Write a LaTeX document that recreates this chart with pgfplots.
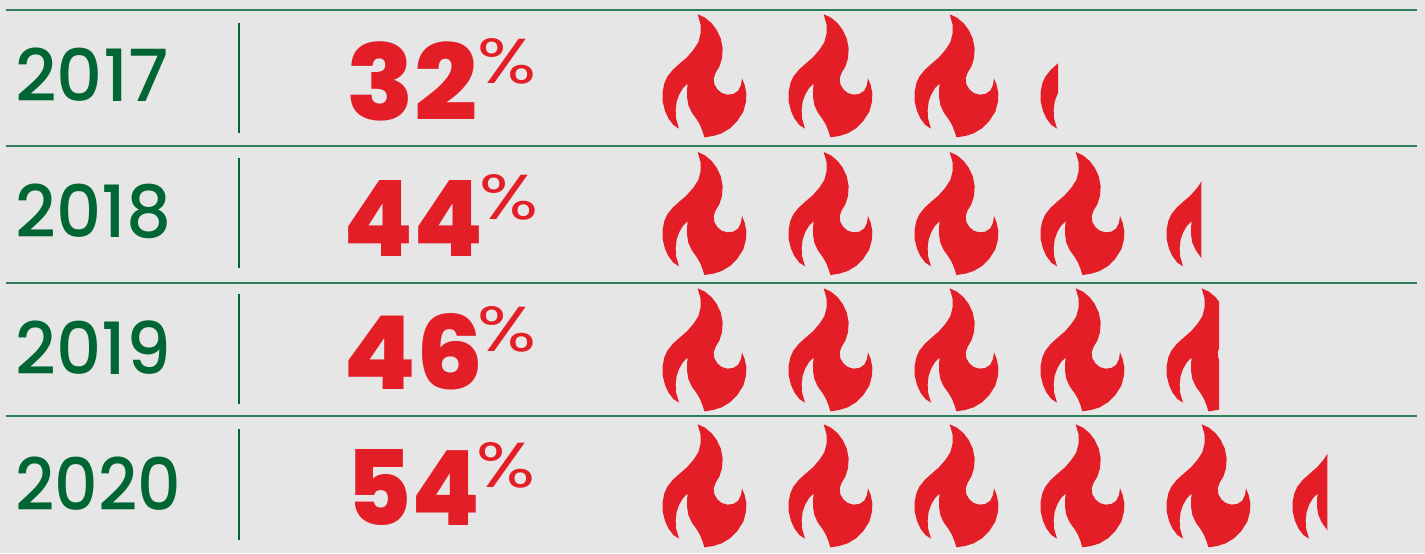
\documentclass[border=0pt]{standalone}
\usepackage{pgfplots}
\pgfplotsset{compat=1.18}
\usepackage{pgfplotstable}
\usepackage{fontspec}
\usepackage{graphicx}
\setmainfont{Poppins}
\newfontfamily\heavy{Poppins}[UprightFont={* ExtraBold}]
\newfontfamily\medi{Poppins}[UprightFont={* Medium}]
\definecolor{bg}{HTML}{E6E6E6}
\definecolor{grn}{HTML}{006633}
\definecolor{rule}{HTML}{2F7F5A}
\definecolor{rd}{HTML}{E31E26}
% whole flame
\pgfplotstableread{
zx zy
143 28
165 38
185 55
200 75
212 100
218 130
216 160
208 185
197 203
191 220
193 238
202 253
215 264
232 269
250 267
265 257
273 240
276 220
284 240
289 265
288 290
280 320
262 348
240 370
215 385
190 393
163 397
158 380
150 360
140 343
125 322
115 300
111 275
111 255
113 236
100 248
88 268
80 290
77 315
78 340
87 371
70 360
55 340
45 318
38 290
38 260
43 235
52 215
68 195
90 175
110 158
130 135
145 112
152 85
152 60
143 28
}\flametable
% 0.2 of a flame
\pgfplotstableread{
zx zy
90 175
90 265
88 268
80 290
77 315
78 340
87 371
70 360
55 340
45 318
38 290
38 260
43 235
52 215
68 195
90 175
}\flameA
% 0.4 of a flame
\pgfplotstableread{
zx zy
142 116.6
142 346.4
140 343
125 322
115 300
111 275
111 255
113 236
100 248
88 268
80 290
77 315
78 340
87 371
70 360
55 340
45 318
38 290
38 260
43 235
52 215
68 195
90 175
110 158
130 135
142 116.6
}\flameB
% 0.6 of a flame
\pgfplotstableread{
zx zy
143 28
165 38
185 55
195 68.3
195 208.7
191 220
193 238
195 241.3
195 391.4
190 393
163 397
158 380
150 360
140 343
125 322
115 300
111 275
111 255
113 236
100 248
88 268
80 290
77 315
78 340
87 371
70 360
55 340
45 318
38 290
38 260
43 235
52 215
68 195
90 175
110 158
130 135
145 112
152 85
152 60
143 28
}\flameC
% #1 left edge, #2 top edge, #3 table
\newcommand{\flame}[3]{%
  \addplot[fill=rd,draw=none,forget plot] table[
    x expr={(\thisrow{zx}-36)/3+#1},
    y expr={(\thisrow{zy}-28)/3+#2}] {#3} -- cycle;
}
\newcommand{\ylab}[4]{\node[anchor=base west,inner sep=0pt,text=grn,font=\medi\fontsize{36}{36}\selectfont] at (axis cs:#1,#2) {\scalebox{#4}[1]{#3}};}
\newcommand{\vlab}[5]{\node[anchor=base west,inner sep=0pt,text=rd,font=\heavy\fontsize{56}{56}\selectfont] at (axis cs:#1,#2) {\resizebox{#4pt}{#5pt}{#3}};}
\newcommand{\plab}[2]{\node[anchor=base west,inner sep=0pt,text=rd,font=\fontsize{36}{36}\selectfont] at (axis cs:#1,#2) {\resizebox{29.5pt}{22.5pt}{\%}};}
\begin{document}
\begin{tikzpicture}
\begin{axis}[scale only axis,width=712.5pt,height=276.5pt,
  xmin=0,xmax=1425,ymin=0,ymax=553,y dir=reverse,hide axis,clip=true]
\addplot[fill=bg,draw=none,forget plot] coordinates {(0,0)(1425,0)(1425,553)(0,553)} -- cycle;
% rules
\addplot[rule,line width=0.8pt,forget plot] coordinates {(5.5,9.9)(1417,9.9)};
\addplot[rule,line width=0.8pt,forget plot] coordinates {(5.5,146)(1417,146)};
\addplot[rule,line width=0.8pt,forget plot] coordinates {(5.5,283)(1417,283)};
\addplot[rule,line width=0.8pt,forget plot] coordinates {(5.5,415.7)(1417,415.7)};
\addplot[grn,line width=0.7pt,forget plot] coordinates {(239,23)(239,133)};
\addplot[grn,line width=0.7pt,forget plot] coordinates {(239,158)(239,268)};
\addplot[grn,line width=0.7pt,forget plot] coordinates {(239,294)(239,404)};
\addplot[grn,line width=0.7pt,forget plot] coordinates {(239,429)(239,540)};
% 2017: 32
\flame{662}{14.3}{\flametable}\flame{788}{14.3}{\flametable}\flame{914}{14.3}{\flametable}\flame{1040}{14.3}{\flameA}
% 2018: 44
\flame{662}{152}{\flametable}\flame{788}{152}{\flametable}\flame{914}{152}{\flametable}\flame{1040}{152}{\flametable}\flame{1166}{152}{\flameB}
% 2019: 46
\flame{662}{288.3}{\flametable}\flame{788}{288.3}{\flametable}\flame{914}{288.3}{\flametable}\flame{1040}{288.3}{\flametable}\flame{1166}{288.3}{\flameC}
% 2020: 54
\flame{662}{424.3}{\flametable}\flame{788}{424.3}{\flametable}\flame{914}{424.3}{\flametable}\flame{1040}{424.3}{\flametable}\flame{1166}{424.3}{\flametable}\flame{1292}{424.3}{\flameB}
\ylab{15}{101.7}{2017}{1}\ylab{15}{237.5}{2018}{0.98}\ylab{15}{374.5}{2019}{0.98}\ylab{15}{510.7}{2020}{0.945}
\vlab{346}{120.7}{32}{65.5}{39.4}\vlab{343}{256.7}{44}{70}{38}\vlab{343}{389.3}{46}{70}{38}\vlab{346}{525.7}{54}{67}{38}
\plab{477.5}{83.5}\plab{479}{219.5}\plab{477}{351.5}\plab{476}{487.5}
\end{axis}
\end{tikzpicture}
\end{document}
